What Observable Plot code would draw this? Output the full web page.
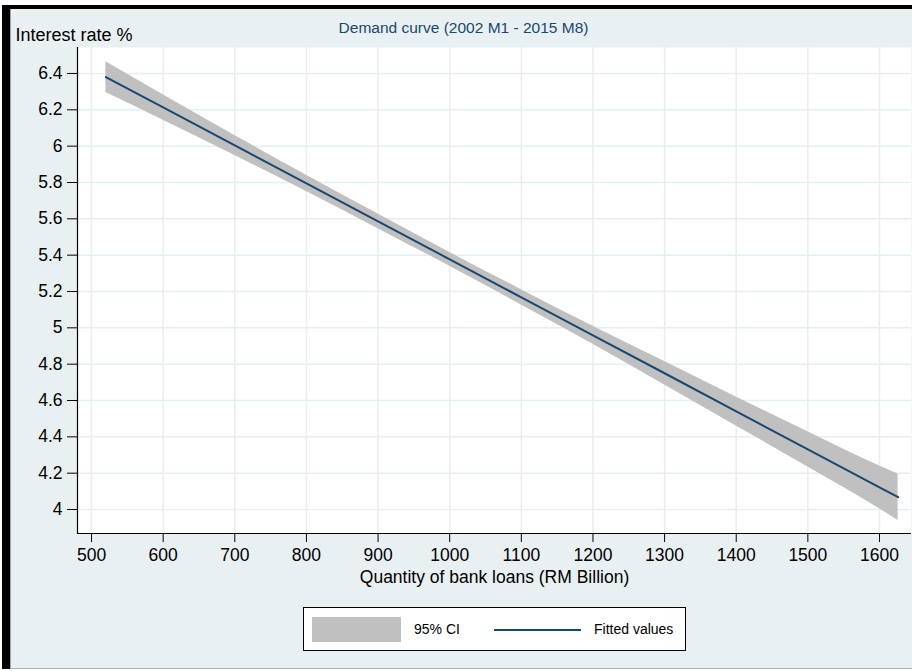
<!DOCTYPE html>
<html>
<head>
<meta charset="utf-8">
<script src="https://cdn.jsdelivr.net/npm/d3@7"></script>
<script src="https://cdn.jsdelivr.net/npm/@observablehq/plot@0.6"></script>
<style>
  html, body { margin: 0; padding: 0; background: #ffffff; }
  #wrap { position: relative; width: 912px; height: 671px; overflow: hidden; font-family: "Liberation Sans", Arial, sans-serif; }
  #bg { position: absolute; left: 10px; top: 9px; right: 0; bottom: 2px; background: #e9f0f2; border-left: 1px solid #9aa4a8; }
  #barL { position: absolute; left: 2px; top: 5px; width: 8px; bottom: 2px; background: #000; }
  #barT { position: absolute; left: 2px; top: 5px; right: 0; height: 4px; background: #000; }
  #barB { position: absolute; left: 10px; right: 0; top: 668px; height: 1px; background: #a8b0b3; }
  #chart { position: absolute; left: 0; top: 0; }
  #legend { position: absolute; left: 303px; top: 607px; width: 381px; height: 42px; background: #fff; border: 1px solid #000; font-size: 14px; color: #000; }
  #legend .sw { position: absolute; left: 8px; top: 9px; width: 89px; height: 25px; background: #c0c0c0; }
  #legend .ln { position: absolute; left: 190px; top: 21px; width: 87px; height: 2px; background: #1a476f; }
  #legend .t1 { position: absolute; left: 110px; top: 13px; line-height: 16px; }
  #legend .t2 { position: absolute; left: 290px; top: 13px; line-height: 16px; }
</style>
</head>
<body>
<div id="wrap">
  <div id="bg"></div>
  <div id="barL"></div>
  <div id="barT"></div>
  <div id="barB"></div>
  <div id="chart"></div>
  <div id="legend">
    <div class="sw"></div><span class="t1">95% CI</span>
    <div class="ln"></div><span class="t2">Fitted values</span>
  </div>
</div>
<script>
// Quantity of bank loans (RM Billion)
const loans   = [520,   600,   700,   800,   900,   1000,  1100,  1200,  1300,  1400,  1500,  1600,  1626];
// Fitted interest rate %
const fitted  = [6.380, 6.213, 6.004, 5.795, 5.586, 5.377, 5.168, 4.959, 4.750, 4.540, 4.331, 4.122, 4.068];
// 95% CI bounds
const ciLow   = [6.295, 6.143, 5.949, 5.750, 5.546, 5.339, 5.126, 4.909, 4.685, 4.460, 4.234, 4.004, 3.940];
const ciHigh  = [6.465, 6.283, 6.059, 5.840, 5.626, 5.415, 5.210, 5.009, 4.815, 4.620, 4.428, 4.240, 4.196];

const xTicks = [500, 600, 700, 800, 900, 1000, 1100, 1200, 1300, 1400, 1500, 1600];
const yTicks = [4, 4.2, 4.4, 4.6, 4.8, 5, 5.2, 5.4, 5.6, 5.8, 6, 6.2, 6.4];
const yTickLabels = ["4", "4.2", "4.4", "4.6", "4.8", "5", "5.2", "5.4", "5.6", "5.8", "6", "6.2", "6.4"];

const titleText = "Demand curve (2002 M1 - 2015 M8)";
const yLabel = "Interest rate %";
const xLabel = "Quantity of bank loans (RM Billion)";

const rows = loans.map((x, i) => ({x, fit: fitted[i], lo: ciLow[i], hi: ciHigh[i]}));
const xDomain = [480.4, 1644.7];
const yDomain = [3.868, 6.543];
const gridColor = "#e6eef1";

const chart = Plot.plot({
  width: 912,
  height: 671,
  marginLeft: 77,
  marginRight: 1,
  marginTop: 47,
  marginBottom: 138,
  x: {domain: xDomain},
  y: {domain: yDomain},
  style: {background: "none", fontFamily: "'Liberation Sans', Arial, sans-serif", fontSize: "17.5px", color: "#000", overflow: "visible"},
  marks: [
    Plot.frame({fill: "#ffffff", stroke: null}),
    Plot.gridX(xTicks, {stroke: gridColor, strokeOpacity: 1, strokeWidth: 1.5}),
    Plot.gridY(yTicks, {stroke: gridColor, strokeOpacity: 1, strokeWidth: 1.5}),
    Plot.areaY(rows, {x: "x", y1: "lo", y2: "hi", fill: "#c0c0c0", curve: "monotone-x"}),
    Plot.lineY(rows, {x: "x", y: "fit", stroke: "#1a476f", strokeWidth: 2}),
    Plot.ruleX([xDomain[0]], {stroke: "#000", strokeWidth: 1.2}),
    Plot.ruleY([yDomain[0]], {stroke: "#000", strokeWidth: 1.2}),
    Plot.axisX({ticks: xTicks, tickSize: 9, tickPadding: 6, label: null, tickFormat: d => String(d), fontSize: 17.5, stroke: "#000"}),
    Plot.axisY({ticks: yTicks, tickSize: 10, tickPadding: 5, label: null, tickFormat: (d) => yTickLabels[yTicks.indexOf(d)], fontSize: 17.5, stroke: "#000"}),
    Plot.text([titleText], {frameAnchor: "top", dx: -31, dy: -15, lineAnchor: "bottom", fill: "#1a476f", fontSize: 15.5}),
    Plot.text([yLabel], {frameAnchor: "top-left", textAnchor: "start", dx: -62, dy: -7, lineAnchor: "bottom", fill: "#000", fontSize: 18}),
    Plot.text([xLabel], {frameAnchor: "bottom", dy: 49, lineAnchor: "bottom", fill: "#000", fontSize: 17.5})
  ]
});
document.getElementById("chart").appendChild(chart);
</script>
</body>
</html>
